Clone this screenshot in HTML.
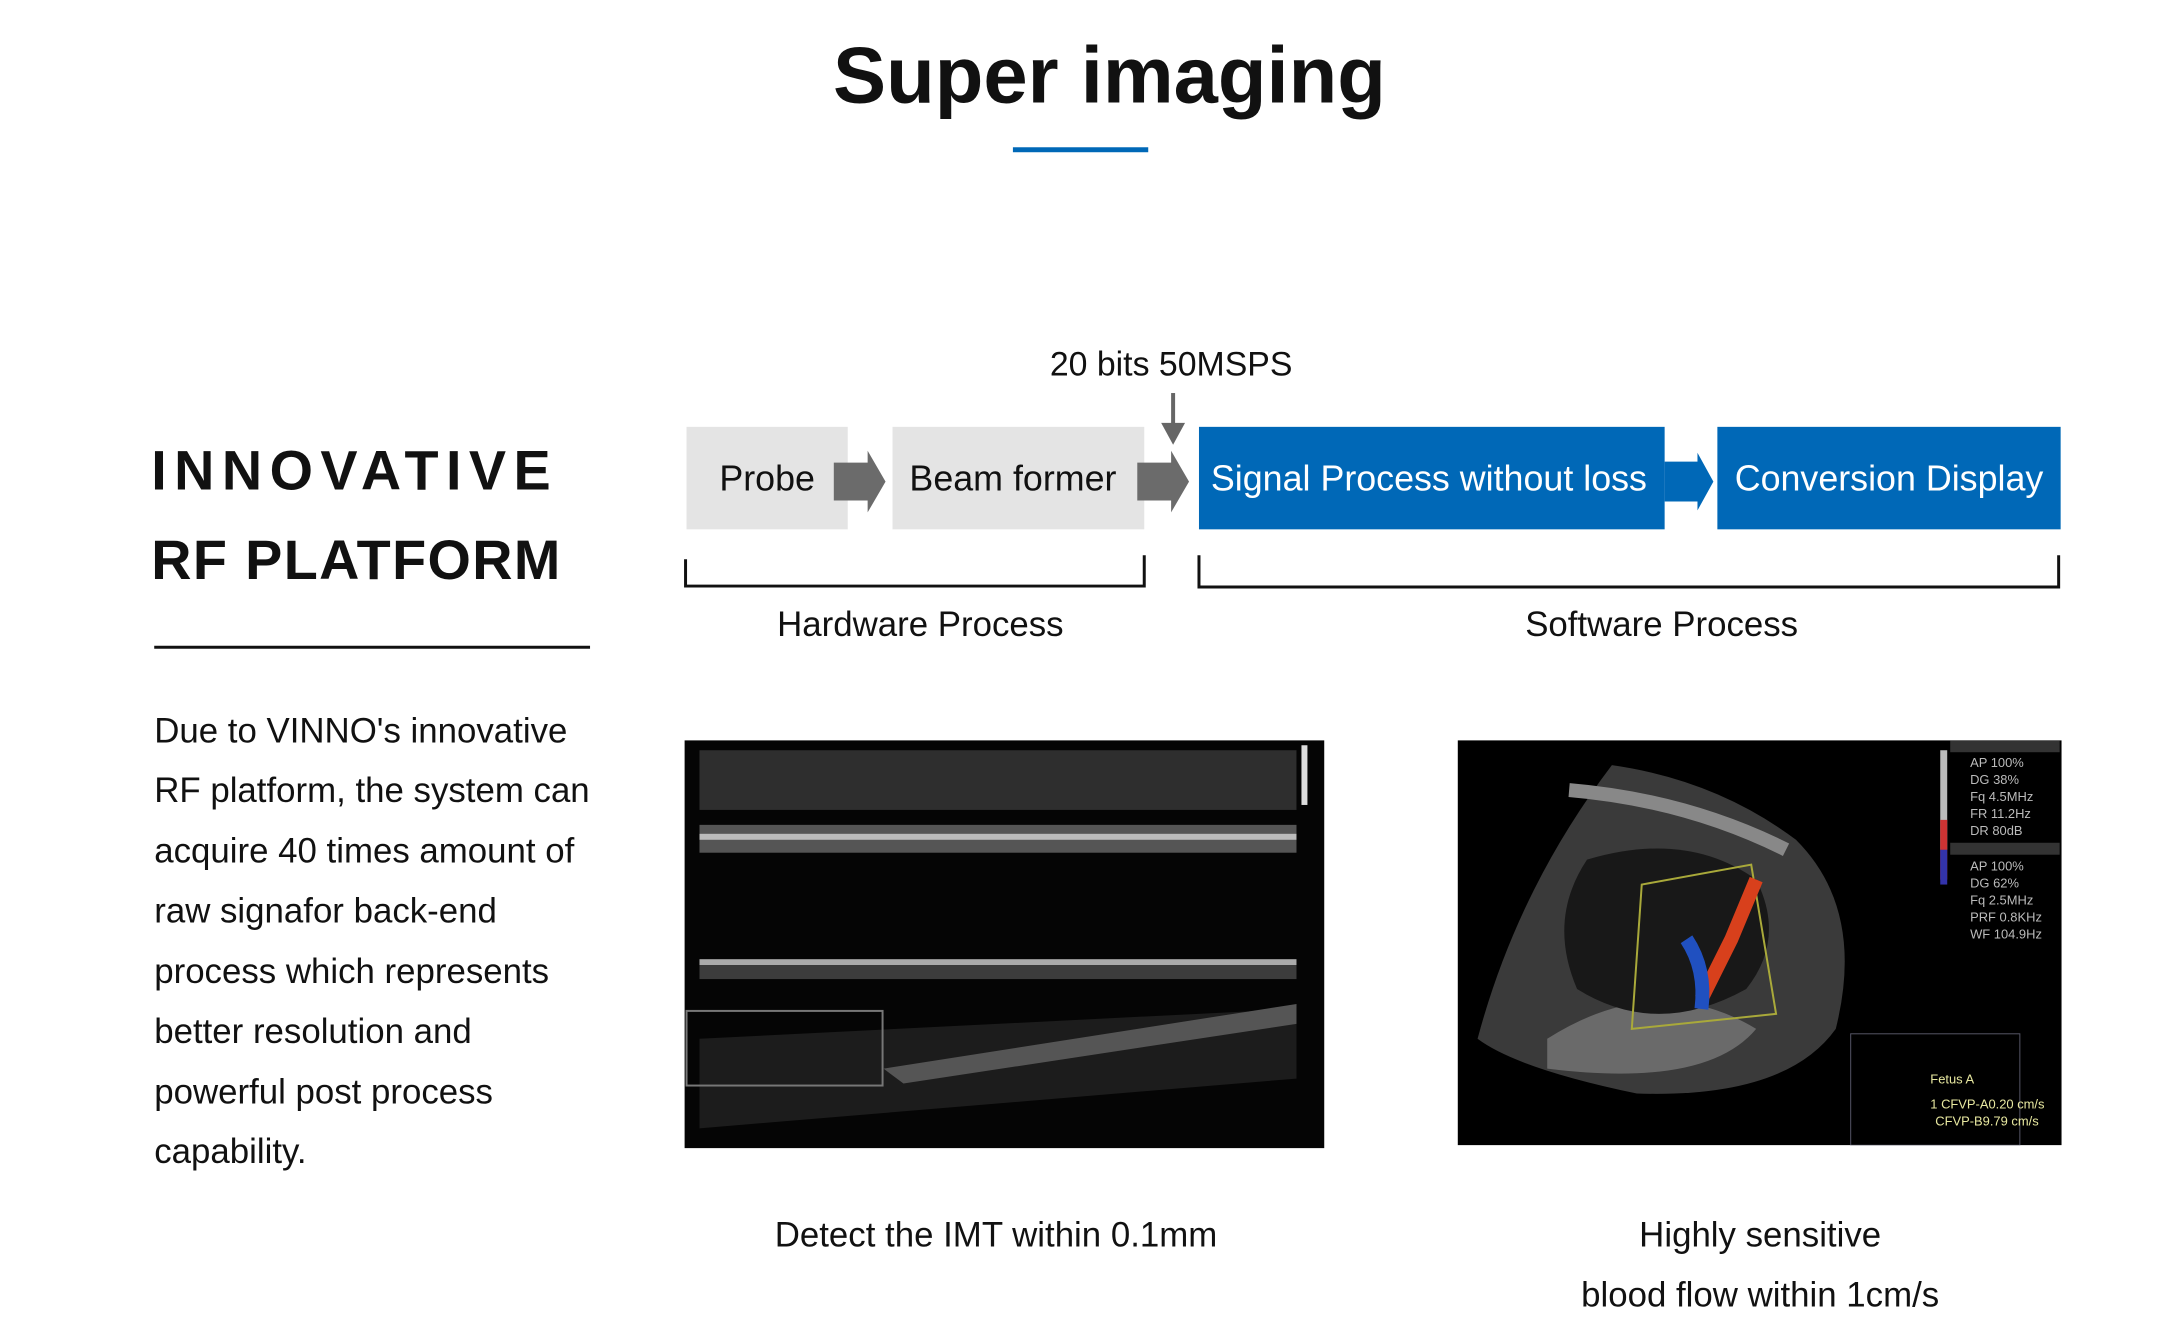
<!DOCTYPE html>
<html><head><style>
body{margin:0;width:2160px;height:1337px;background:#fff;position:relative;overflow:hidden;font-family:"Liberation Sans",sans-serif;color:#111}
#w{position:absolute;left:0;top:0;width:2160px;height:1337px;transform:scale(0.995);transform-origin:0 0}
.a{position:absolute}
.c{position:absolute;transform:translate(-50%,-50%);white-space:nowrap}
.box{position:absolute;display:flex;align-items:center;justify-content:center;font-size:36px;white-space:nowrap}
.g{background:#e4e4e4;color:#111}
.b{background:#0068b7;color:#fff}
.p{position:absolute;left:155px;font-size:35px;white-space:nowrap;transform:translateY(-50%)}
</style></head><body><div id="w">
<div class="c" style="left:1115px;top:76px;font-size:80px;font-weight:bold">Super imaging</div>
<div class="a" style="left:1018px;top:148px;width:136px;height:5px;background:#0068b7"></div>

<div class="c" style="left:1177px;top:367px;font-size:34px">20 bits 50MSPS</div>
<div class="a" style="left:1177px;top:395px;width:4px;height:34px;background:#666"></div>
<div class="a" style="left:1167px;top:425px;width:0;height:0;border-left:12px solid transparent;border-right:12px solid transparent;border-top:22px solid #666"></div>

<div class="box g" style="left:690px;top:429px;width:162px;height:103px">Probe</div>
<div class="box g" style="left:897px;top:429px;width:253px;height:103px;justify-content:flex-start;padding-left:17px;box-sizing:border-box">Beam former</div>
<div class="box b" style="left:1205px;top:429px;width:468px;height:103px;justify-content:flex-start;padding-left:12px;box-sizing:border-box">Signal Process without loss</div>
<div class="box b" style="left:1726px;top:429px;width:345px;height:103px">Conversion Display</div>

<svg class="a" style="left:0;top:0" width="2160" height="1337">
<polygon points="838,465 872,465 872,453 890,484 872,515 872,503 838,503" fill="#6b6b6b"/>
<polygon points="1143,465 1177,465 1177,453 1195,484 1177,515 1177,503 1143,503" fill="#6b6b6b"/>
<polygon points="1673,464 1706,464 1706,455 1722,484 1706,513 1706,504 1673,504" fill="#0068b7"/>
<path d="M689,562 V589 H1150 V558" fill="none" stroke="#111" stroke-width="3"/>
<path d="M1205,558 V590 H2069 V558" fill="none" stroke="#111" stroke-width="3"/>
</svg>
<div class="c" style="left:925px;top:628px;font-size:35px">Hardware Process</div>
<div class="c" style="left:1670px;top:628px;font-size:35px">Software Process</div>

<div class="a" style="left:152px;top:440px;font-size:56px;font-weight:bold;letter-spacing:7.5px">INNOVATIVE</div>
<div class="a" style="left:152px;top:530px;font-size:56px;font-weight:bold;letter-spacing:1.4px">RF PLATFORM</div>
<div class="a" style="left:155px;top:649px;width:438px;height:3px;background:#111"></div>

<div class="p" style="top:735px">Due to VINNO's innovative</div>
<div class="p" style="top:795px">RF platform, the system can</div>
<div class="p" style="top:856px">acquire 40 times amount of</div>
<div class="p" style="top:916px">raw signafor back-end</div>
<div class="p" style="top:977px">process which represents</div>
<div class="p" style="top:1037px">better resolution and</div>
<div class="p" style="top:1098px">powerful post process</div>
<div class="p" style="top:1158px">capability.</div>

<svg class="a" style="left:688px;top:744px" width="643" height="410">
<rect width="643" height="410" fill="#050505"/>
<rect x="15" y="10" width="600" height="60" fill="#2e2e2e"/>
<rect x="15" y="85" width="600" height="28" fill="#555"/>
<rect x="15" y="94" width="600" height="6" fill="#bbb"/>
<rect x="15" y="220" width="600" height="6" fill="#aaa"/>
<rect x="15" y="226" width="600" height="14" fill="#3c3c3c"/>
<polygon points="15,300 615,270 615,340 15,390" fill="#1c1c1c"/>
<polygon points="200,330 615,265 615,285 220,345" fill="#555"/>
<rect x="620" y="5" width="6" height="60" fill="#ddd"/>
<rect x="2" y="272" width="197" height="75" fill="none" stroke="#777" stroke-width="2"/>
</svg>

<svg class="a" style="left:1465px;top:744px" width="607" height="407">
<rect width="607" height="407" fill="#000"/>
<path d="M155,25 Q260,40 340,100 Q410,170 380,290 Q330,360 180,355 Q60,330 20,300 Q60,150 155,25Z" fill="#3a3a3a"/>
<path d="M90,300 Q200,230 300,290 Q250,350 90,330Z" fill="#6a6a6a"/>
<path d="M130,120 Q230,90 300,140 Q330,200 290,250 Q200,300 120,250 Q90,180 130,120Z" fill="#181818"/>
<path d="M112,50 Q230,60 330,110" stroke="#888" stroke-width="14" fill="none"/>
<polygon points="185,145 295,125 320,275 175,290" fill="none" stroke="#a9a93a" stroke-width="2"/>
<path d="M300,140 L275,200 L245,260" stroke="#d8401c" stroke-width="14" fill="none"/>
<path d="M230,200 Q250,230 245,270" stroke="#2050c0" stroke-width="14" fill="none"/>
<rect x="485" y="10" width="7" height="100" fill="#bbb"/>
<rect x="485" y="80" width="7" height="60" fill="#c33"/>
<rect x="485" y="110" width="7" height="35" fill="#33a"/>
<rect x="495" y="0" width="110" height="12" fill="#333"/>
<rect x="495" y="103" width="110" height="12" fill="#333"/>
<g font-size="13" fill="#bbb" font-family="Liberation Sans">
<text x="515" y="27">AP 100%</text><text x="515" y="44">DG 38%</text><text x="515" y="61">Fq 4.5MHz</text><text x="515" y="78">FR 11.2Hz</text><text x="515" y="95">DR 80dB</text>
<text x="515" y="131">AP 100%</text><text x="515" y="148">DG 62%</text><text x="515" y="165">Fq 2.5MHz</text><text x="515" y="182">PRF 0.8KHz</text><text x="515" y="199">WF 104.9Hz</text>
</g>
<rect x="395" y="295" width="170" height="112" fill="none" stroke="#556" stroke-width="1"/>
<g font-size="13" fill="#e8e8a0" font-family="Liberation Sans"><text x="475" y="345">Fetus A</text><text x="475" y="370">1 CFVP-A0.20 cm/s</text><text x="480" y="387">CFVP-B9.79 cm/s</text></g>
</svg>

<div class="c" style="left:1001px;top:1242px;font-size:35px">Detect the IMT within 0.1mm</div>
<div class="c" style="left:1769px;top:1242px;font-size:35px">Highly sensitive</div>
<div class="c" style="left:1769px;top:1302px;font-size:35px">blood flow within 1cm/s</div>
</div></body></html>
